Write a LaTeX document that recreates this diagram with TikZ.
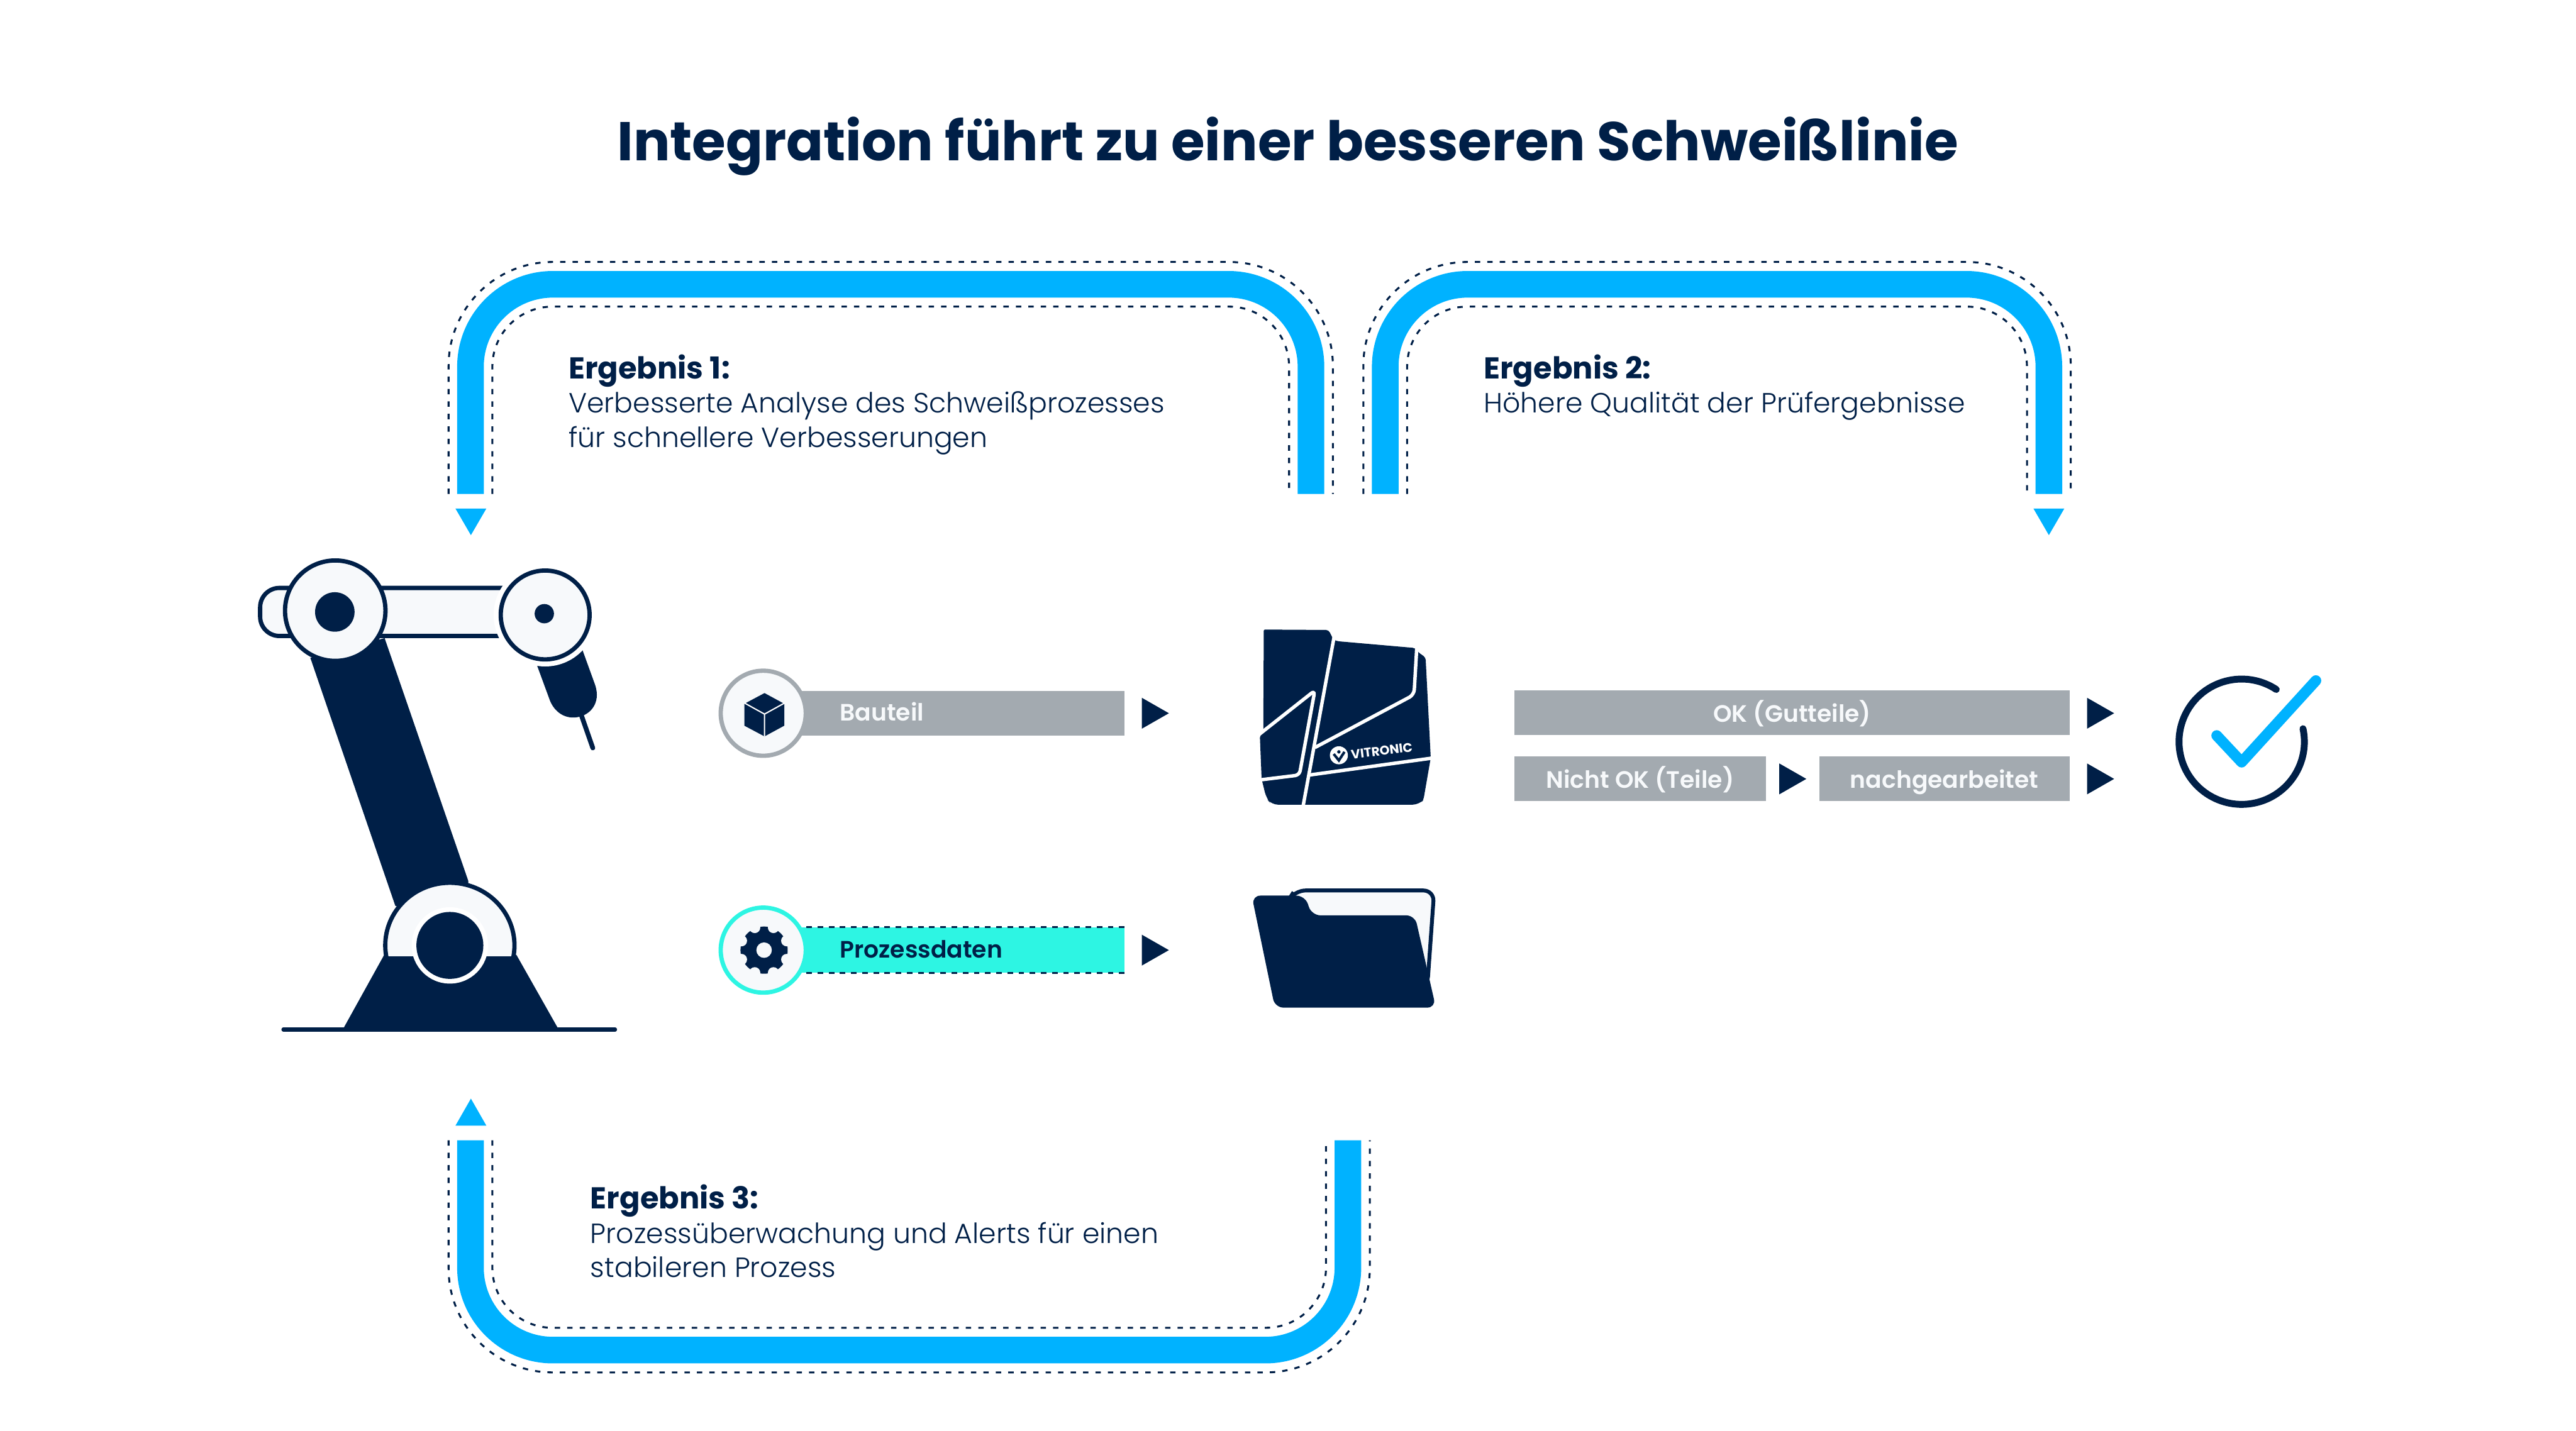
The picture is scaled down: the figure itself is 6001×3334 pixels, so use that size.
\documentclass[tikz,border=0pt]{standalone}
\usepackage{fontspec}
\setmainfont{Poppins}
\newfontfamily\lightfont{Poppins Light}
\newfontfamily\semifont{Poppins SemiBold}
\definecolor{navy}{HTML}{001F47}
\definecolor{skyband}{HTML}{00B2FF}
\definecolor{greybar}{HTML}{A3AAB0}
\definecolor{mint}{HTML}{2DF5E3}
\definecolor{paper}{HTML}{F7F9FB}
\tikzset{
  band/.style={draw=skyband,line width=0.62cm,rounded corners=1.92cm},
  rail/.style={draw=navy,line width=0.045cm,dash pattern=on 0.125cm off 0.165cm},
  greyrect/.style={fill=greybar,inner sep=0pt,minimum height=1.04cm,text=paper,text height=0.44cm,text depth=0cm,font=\semifont\fontsize{15.7}{20}\selectfont},
  barlabel/.style={anchor=base west,inner sep=0pt,font=\semifont\fontsize{15.7}{20}\selectfont},
  headtext/.style={anchor=base west,inner sep=0pt,text=navy,font=\bfseries\fontsize{20}{24}\selectfont},
  bodytext/.style={anchor=base west,inner sep=0pt,text=navy,font=\lightfont\fontsize{18.4}{22}\selectfont},
  badge/.style={circle,fill=paper,line width=0.1cm,minimum size=1.98cm,inner sep=0pt},
  armline/.style={draw=navy,fill=paper,line width=0.1cm},
  camline/.style={draw=white,line width=0.08cm,line join=round},
}
%% one arch: name, left x, right x, y of the crown, y of the feet, side of the outer rail
\newcommand{\archband}[6]{
  \coordinate (#1a) at (#2,#5);
  \coordinate (#1b) at (#3,#5);
  \draw[band] (#1a) -- (#2,#4) -- (#3,#4) -- (#1b);
  \draw[rail,rounded corners=2.42cm] (#2-51,#5) -- (#2-51,#4-#6*52) -- (#3+51,#4-#6*52) -- (#3+51,#5);
  \draw[rail,rounded corners=1.40cm] (#2+51,#5) -- (#2+51,#4+#6*52) -- (#3-51,#4+#6*52) -- (#3-51,#5);
}
\begin{document}
\begin{tikzpicture}[x=0.01cm,y=-0.01cm]
    \useasboundingbox (0,0) rectangle (6001,3334);
    %% title
    \node[anchor=base,inner sep=0pt,text=navy,font=\bfseries\fontsize{36.2}{40}\selectfont] (title) at (3000,375) {Integration führt zu einer besseren Schweißlinie};

    %% arches and their tips
    \archband{one}{1096}{3054}{662.5}{1151}{1}
    \archband{two}{3227}{4773}{662.5}{1151}{1}
    \archband{three}{1096}{3140}{3146}{2657}{-1}
    \fill[skyband] (1061,1185) -- (1133,1185) -- (1097,1247) -- cycle;
    \fill[skyband] (4737,1185) -- (4809,1185) -- (4773,1247) -- cycle;
    \fill[skyband] (1061,2623) -- (1133,2623) -- (1097,2560) -- cycle;

    %% texts in the arches
    \node[headtext] (resone) at (1324,882) {Ergebnis 1:};
    \node[bodytext] (resonea) at (1324,962) {Verbesserte Analyse des Schweißprozesses};
    \node[bodytext] (resoneb) at (1324,1042) {für schnellere Verbesserungen};
    \node[headtext] (restwo) at (3456,882) {Ergebnis 2:};
    \node[bodytext] (restwoa) at (3456,962) {Höhere Qualität der Prüfergebnisse};
    \node[headtext] (resthree) at (1375,2817) {Ergebnis 3:};
    \node[bodytext] (resthreea) at (1375,2897) {Prozessüberwachung und Alerts für einen};
    \node[bodytext] (resthreeb) at (1375,2977) {stabileren Prozess};

    %% robot, foot
    \draw[navy,line width=0.09cm,line cap=round] (660,2399) -- (1433,2399);
    \fill[navy] (895,2225) -- (1203,2225) -- (1302,2400) -- (798,2400) -- cycle;
    %% robot, long arm
    \fill[navy] (723,1533) -- (896,1487) -- (1091,2053) -- (1092,2150) -- (921,2111) -- cycle;
    \begin{scope}
        \clip (800,2000) rectangle (1300,2227);
        \draw[armline] (1048,2203) ellipse (150.5 and 146);
    \end{scope}
    \fill[white] (1048,2203) circle (89);
    \fill[navy] (1048,2203) circle (78);
    %% robot, upper arm
    \draw[armline,rounded corners=0.45cm] (606,1370) rectangle (1250,1482);
    \draw[armline] (781,1423) circle (117);
    \fill[navy] (780,1426) circle (46);
    %% robot, welding tool
    \draw[navy,line width=0.11cm,line cap=round] (1352,1660) -- (1381,1743);
    \fill[navy] (1340,1468) -- (1386,1595) .. controls (1402,1640) and (1372,1672) .. (1335,1672) .. controls (1310,1672) and (1290,1655) .. (1281,1632) -- (1238,1515) -- cycle;
    \fill[white] (1270,1433) circle (120);
    \draw[armline] (1270,1433) circle (103.5);
    \fill[navy] (1268,1430) circle (22.5);

    %% input bars
    \node[fill=greybar,anchor=west,inner sep=0pt,minimum width=8.40cm,minimum height=1.04cm] (partbar) at (1778,1662) {};
    \node[barlabel,text=paper] (partlabel) at (1956,1680) {Bauteil};
    \node[badge,draw=greybar] (partbadge) at (1778,1662) {};
    \node[fill=mint,anchor=west,inner sep=0pt,minimum width=8.40cm,minimum height=1.06cm] (procbar) at (1778,2214) {};
    \draw[navy,line width=0.045cm,dash pattern=on 0.13cm off 0.13cm] (procbar.north east) -- (procbar.north west);
    \draw[navy,line width=0.045cm,dash pattern=on 0.13cm off 0.13cm] (procbar.south east) -- (procbar.south west);
    \node[barlabel,text=navy] (proclabel) at (1956,2232) {Prozessdaten};
    \node[badge,draw=mint] (procbadge) at (1778,2214) {};

    %% cube icon
    \fill[navy] (1781,1615) -- (1827,1640) -- (1827,1691) -- (1781,1716) -- (1734,1691) -- (1734,1640) -- cycle;
    \draw[white,line width=0.03cm] (1734,1638) -- (1781,1664) -- (1828,1638) (1781,1664) -- (1781,1716);
    %% gear icon
    \begin{scope}[shift={(1780,2214)}]
        \fill[navy] (0,0) circle (55);
        \foreach \a in {22.5,67.5,...,337.5}
            \fill[paper] (\a:57) circle (13);
        \fill[paper] (0,0) circle (18);
    \end{scope}

    %% little arrows
    \foreach \x/\y in {2660/1662,2660/2214,4145/1815,4862/1662,4862/1815}
        \fill[navy] (\x,\y-36) -- (\x+63,\y) -- (\x,\y+36) -- cycle;

    %% camera
    \fill[navy,rounded corners=0.06cm] (2944,1467) -- (3095,1468) -- (3106,1490) -- (3114,1494) -- (3297,1510) -- (3304,1520) -- (3321,1532) -- (3333,1766) -- (3316,1864) [rounded corners=0.15cm] -- (3306,1875) -- (2962,1875) -- (2950,1860) [rounded corners=0.03cm] -- (2939,1815) -- (2935,1716) -- (2943,1706) -- cycle;
    \draw[camline] (3109,1478) -- (3035,1882);
    \draw[camline,rounded corners=0.12cm] (3301,1500) -- (3294,1619) -- (3063,1742);
    \draw[camline] (3340,1766) -- (3050,1806);
    \draw[camline,rounded corners=0.1cm] (2930,1714) -- (3063,1609) -- (3027,1806) -- (2930,1818);
    \fill[white] (3119,1760) circle (21);
    \draw[navy,line width=0.06cm] (3107,1757) -- (3119,1772) -- (3132,1752);
    \fill[navy] (3119,1752) circle (4);
    \node[anchor=base,inner sep=0pt,text=white,rotate=7,font=\bfseries\fontsize{8.4}{10}\selectfont] (brand) at (3220,1760) {VITRONIC};

    %% folder
    \draw[navy,fill=paper,line width=0.09cm,rounded corners=0.25cm] (3000,2100) -- (3016,2075) -- (3341,2075) -- (3325,2300) -- (3000,2300) -- cycle;
    \fill[navy,rounded corners=0.2cm] (2916,2087) -- (3040,2087) -- (3056,2133) -- (3296,2133) -- (3345,2348) -- (2970,2348) -- cycle;

    %% results
    \node[greyrect,minimum width=12.92cm] (okbar) at (4175,1661) {OK (Gutteile)};
    \node[greyrect,minimum width=5.845cm] (nokbar) at (3821,1815) {Nicht OK (Teile)};
    \node[greyrect,minimum width=5.825cm] (redobar) at (4529.5,1815) {nachgearbeitet};

    %% check mark
    \draw[navy,line width=0.16cm,line cap=round] (5365,1698) arc (-12:303.5:146);
    \draw[skyband,line width=0.25cm,line cap=round,line join=round] (5164,1714) -- (5222,1776) -- (5395,1586);
\end{tikzpicture}
\end{document}
